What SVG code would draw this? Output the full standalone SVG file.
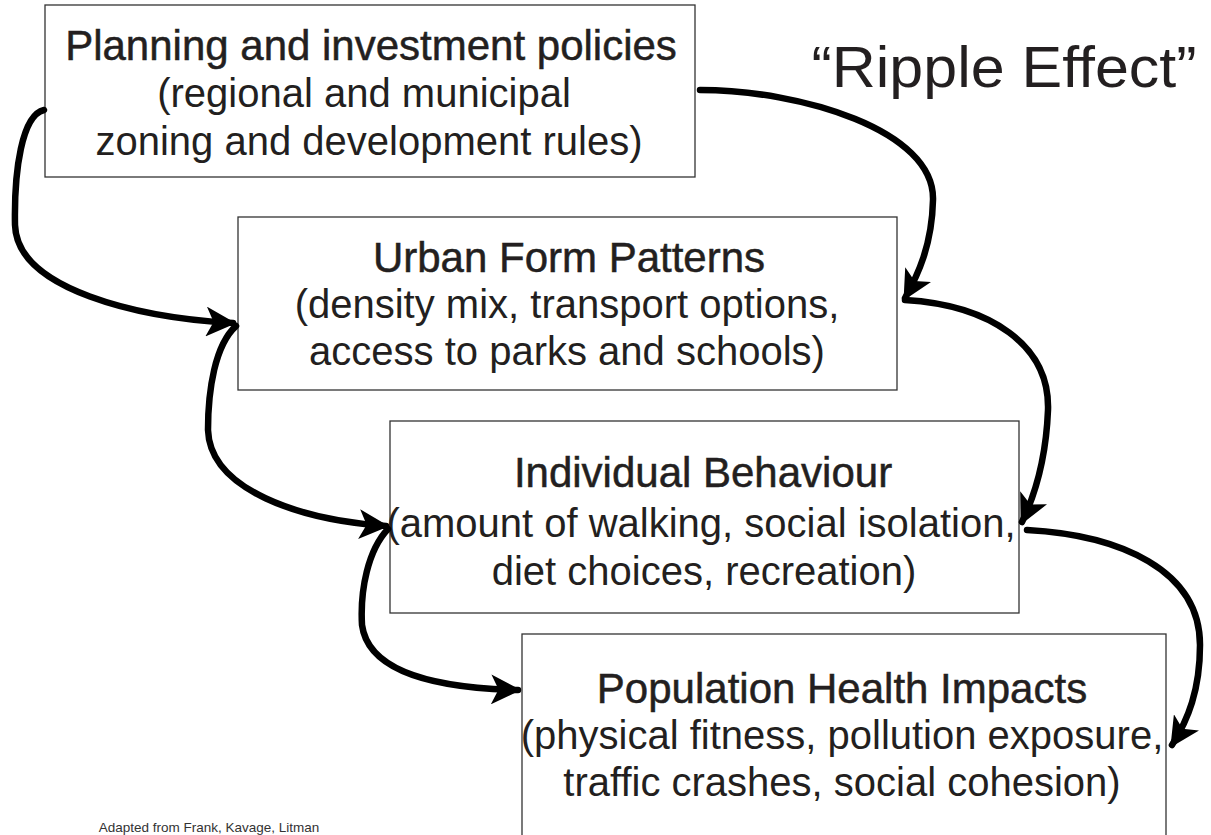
<svg xmlns="http://www.w3.org/2000/svg" width="1211" height="835" viewBox="0 0 1211 835">
<style>
.box{fill:#fff;stroke:#333;stroke-width:1.3}
.t{font-family:"Liberation Sans",Arial,sans-serif;fill:#231f20;text-anchor:middle}
.h{font-size:42px;stroke:#231f20;stroke-width:0.5}
.b{font-size:40px}
.c{fill:none;stroke:#000;stroke-width:6.5;stroke-linecap:round}
</style>
<defs>
<marker id="ah" viewBox="0 0 10 10" refX="9" refY="5" markerWidth="4.6" markerHeight="4.6" orient="auto" markerUnits="strokeWidth">
<path d="M0,0 L10,5 L0,10 L2.5,5 Z" fill="#000"/>
</marker>
</defs>
<g id="n1">
<rect class="box" x="45" y="5" width="650" height="172"/>
<text class="t h" x="371" y="60">Planning and investment policies</text>
<text class="t b" x="364" y="107">(regional and municipal</text>
<text class="t b" x="369" y="155">zoning and development rules)</text>
</g>
<g id="n2">
<rect class="box" x="238" y="217" width="659" height="173"/>
<text class="t h" x="569" y="272">Urban Form Patterns</text>
<text class="t b" x="567" y="318">(density mix, transport options,</text>
<text class="t b" x="567" y="365">access to parks and schools)</text>
</g>
<g id="n3">
<rect class="box" x="390" y="421" width="629" height="192"/>
<text class="t h" x="703" y="487">Individual Behaviour</text>
<text class="t b" x="701" y="537">(amount of walking, social isolation,</text>
<text class="t b" x="704" y="585">diet choices, recreation)</text>
</g>
<g id="n4">
<rect class="box" x="522" y="634" width="644" height="220"/>
<text class="t h" x="842" y="703">Population Health Impacts</text>
<text class="t b" x="842" y="749">(physical fitness, pollution exposure,</text>
<text class="t b" x="842" y="796">traffic crashes, social cohesion)</text>
</g>
<text class="t" x="1004" y="87" style="font-size:58px" textLength="385" lengthAdjust="spacingAndGlyphs">“Ripple Effect”</text>
<text class="t" x="209" y="832" style="font-size:13.5px;fill:#333">Adapted from Frank, Kavage, Litman</text>
<g id="connectors">
<path class="c" marker-end="url(#ah)" d="M44,110 C22,115 14,170 15,225 C17,290 140,318 233,323"/>
<path class="c" marker-end="url(#ah)" d="M700,90 C800,90 935,130 933,200 C932,245 918,275 905,298"/>
<path class="c" marker-end="url(#ah)" d="M236,326 C215,345 208,390 208,430 C210,490 300,520 386,526"/>
<path class="c" marker-end="url(#ah)" d="M905,300 C990,305 1050,345 1048,410 C1046,460 1035,495 1022,522"/>
<path class="c" marker-end="url(#ah)" d="M388,529 C368,550 360,590 362,625 C368,670 430,688 518,690"/>
<path class="c" marker-end="url(#ah)" d="M1027,530 C1120,535 1200,570 1200,645 C1200,690 1188,720 1172,745"/>
</g>
</svg>
